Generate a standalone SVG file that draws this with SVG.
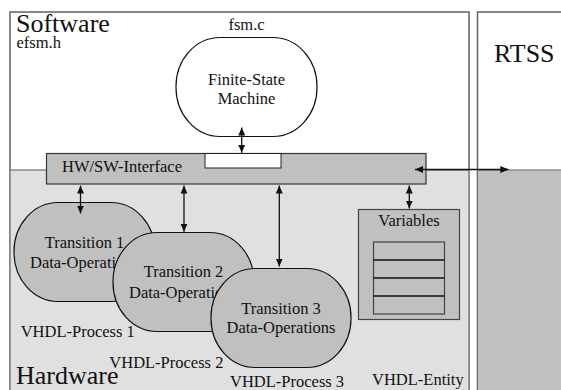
<svg xmlns="http://www.w3.org/2000/svg" width="561" height="390" viewBox="0 0 561 390" font-family="'Liberation Serif', 'DejaVu Serif', serif">
  <style>
    text { font-family: "Liberation Serif", "DejaVu Serif", serif; fill: #111; }
    .big { font-size: 26px; }
    .txt { font-size: 16.5px; }
    .mid { text-anchor: middle; }
    .frame { stroke: #6a6a6a; stroke-width: 1.6; }
    .blob { fill: #c0c0c0; stroke: #111; stroke-width: 1.2; }
    .link { stroke: #111; stroke-width: 1.3; fill: none; marker-start: url(#tip); marker-end: url(#tip); }
  </style>
  <defs>
    <marker id="tip" viewBox="0 0 8 8" refX="8" refY="4" markerWidth="8" markerHeight="8" markerUnits="userSpaceOnUse" orient="auto-start-reverse">
      <path d="M0,0.5 L8,4 L0,7.5 z" fill="#111"/>
    </marker>
  </defs>

  <!-- Software / hardware frame -->
  <g id="frame-main">
    <rect x="10" y="12" width="459" height="400" fill="#ffffff" class="frame"/>
    <rect x="10.8" y="170" width="457.4" height="230" fill="#e0e0e0"/>
    <line x1="10" y1="170" x2="469" y2="170" stroke="#555" stroke-width="1.2"/>
    <text x="16" y="31.5" class="big">Software</text>
    <text x="16.5" y="48" class="txt">efsm.h</text>
    <text x="16" y="384" class="big">Hardware</text>
    <text x="372" y="385" class="txt">VHDL-Entity</text>
  </g>

  <!-- RTSS frame -->
  <g id="frame-rtss">
    <rect x="477.5" y="12" width="100" height="400" fill="#ffffff" class="frame"/>
    <rect x="478.3" y="170.5" width="100" height="230" fill="#c0c0c0"/>
    <line x1="477.5" y1="170" x2="561" y2="170" stroke="#555" stroke-width="1.2"/>
    <text x="494" y="62" class="big">RTSS</text>
  </g>

  <!-- Finite-state machine -->
  <g id="fsm">
    <text x="246.5" y="29.5" class="txt mid">fsm.c</text>
    <rect x="176" y="37.5" width="141" height="99" rx="44" ry="49" fill="#ffffff" stroke="#111" stroke-width="1.2"/>
    <text x="246.5" y="85" class="txt mid">Finite-State</text>
    <text x="246.5" y="104" class="txt mid">Machine</text>
  </g>

  <!-- HW/SW interface -->
  <g id="interface">
    <rect x="46.5" y="153.5" width="379.5" height="30.5" fill="#c0c0c0" stroke="#333" stroke-width="1.2"/>
    <rect x="205" y="153.5" width="76" height="14.5" fill="#ffffff" stroke="#222" stroke-width="1"/>
    <text x="62" y="172.3" class="txt">HW/SW-Interface</text>
  </g>

  <!-- Process 1 -->
  <g id="process1">
    <rect x="14" y="202.5" width="141" height="99" rx="44" ry="49" class="blob"/>
    <text x="84.5" y="248.3" class="txt mid">Transition 1</text>
    <text x="84.5" y="268.3" class="txt mid">Data-Operations</text>
    <text x="20.7" y="337.3" class="txt">VHDL-Process 1</text>
  </g>

  <!-- Process 2 -->
  <g id="process2">
    <rect x="113" y="232.5" width="141" height="99" rx="44" ry="49" class="blob"/>
    <text x="183.5" y="277.3" class="txt mid">Transition 2</text>
    <text x="183.5" y="298.3" class="txt mid">Data-Operations</text>
    <text x="109.3" y="367.7" class="txt">VHDL-Process 2</text>
  </g>

  <!-- Process 3 -->
  <g id="process3">
    <rect x="211" y="268.5" width="140" height="99" rx="44" ry="49" class="blob"/>
    <text x="281" y="314.3" class="txt mid">Transition 3</text>
    <text x="281" y="333.3" class="txt mid">Data-Operations</text>
    <text x="230" y="386.7" class="txt">VHDL-Process 3</text>
  </g>

  <!-- Variables store -->
  <g id="variables">
    <rect x="358.5" y="209.5" width="101" height="110" fill="#c0c0c0" stroke="#444" stroke-width="1.2"/>
    <text x="409" y="225.7" class="txt mid">Variables</text>
    <rect x="373.5" y="242" width="71" height="72" fill="#c0c0c0" stroke="#444" stroke-width="1.2"/>
    <line x1="373.5" y1="260" x2="444.5" y2="260" stroke="#111" stroke-width="1.4"/>
    <line x1="373.5" y1="278" x2="444.5" y2="278" stroke="#111" stroke-width="1.4"/>
    <line x1="373.5" y1="296" x2="444.5" y2="296" stroke="#111" stroke-width="1.4"/>
  </g>

  <!-- Connectors -->
  <g id="connectors">
    <line x1="241.7" y1="127.5" x2="241.7" y2="152.7" class="link"/>
    <line x1="80.5" y1="185.5" x2="80.5" y2="213.5" class="link"/>
    <line x1="184" y1="185.5" x2="184" y2="231.7" class="link"/>
    <line x1="279.3" y1="185.5" x2="279.3" y2="266.5" class="link"/>
    <line x1="409.3" y1="185.5" x2="409.3" y2="208.5" class="link"/>
    <line x1="415" y1="169.5" x2="508.3" y2="169.5" class="link"/>
  </g>
</svg>
